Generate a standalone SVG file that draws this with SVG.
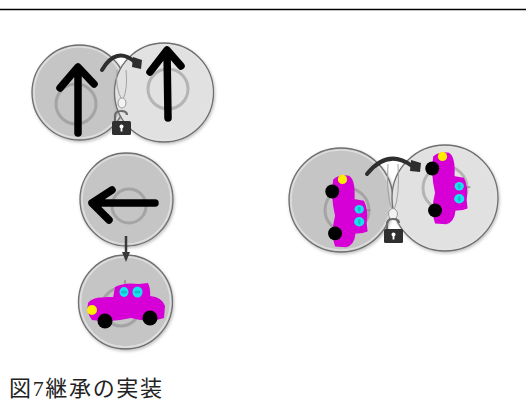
<svg xmlns="http://www.w3.org/2000/svg" xmlns:xlink="http://www.w3.org/1999/xlink" width="526" height="405" viewBox="0 0 526 405">
  <style>
    .disc-dark { fill: #c5c5c5; stroke: #6f6f6f; stroke-width: 1.3; }
    .disc-light { fill: #e1e1e1; stroke: #6f6f6f; stroke-width: 1.3; }
    .bevel { fill: none; stroke: #e4e4e4; stroke-width: 1.6; opacity: 0.8; }
    .seam { fill: none; stroke: #a2a2a2; stroke-width: 1; }
    .ring { fill: none; stroke: #a4a4a4; stroke-width: 3; }
    .ring-light { fill: none; stroke: #b4b4b4; stroke-width: 3; }
    .glyph { fill: none; stroke: #000; stroke-width: 7.5; stroke-linecap: round; stroke-linejoin: round; }
    .swing { fill: none; stroke: #2e2e2e; stroke-width: 4; stroke-linecap: round; }
    .link { fill: none; stroke: #3a3a3a; stroke-width: 2.5; }
    .lock-body { fill: #2f2f2f; }
    .shackle { fill: none; stroke: #6a6a6a; stroke-width: 2.2; }
    .bead { fill: #f2f2f2; stroke: #9a9a9a; stroke-width: 1; }
    .caption { font-family: "Liberation Serif", "Noto Sans CJK JP", serif; font-size: 22px; fill: #222; }
  </style>
  <defs>
    <filter id="shadow" x="-20%" y="-20%" width="140%" height="140%">
      <feDropShadow dx="1" dy="1.5" stdDeviation="1.5" flood-color="#000" flood-opacity="0.25"/>
    </filter>
    <marker id="tip" viewBox="0 0 10 10" refX="5" refY="5" markerWidth="4" markerHeight="4" orient="auto">
      <path d="M0,1 L10,5 L0,9 Z" fill="#3a3a3a"/>
    </marker>
    <!-- hand-drawn magenta car, nose to the left -->
    <g id="car">
      <line x1="125" y1="280" x2="125" y2="287" stroke="#8c8c8c" stroke-width="1.5"/>
      <path d="M113,298 L115,287 Q124,282 139,284 L148,283 Q151,290 150,298 Z" fill="#d600d6"/>
      <path d="M88,303 Q92,296 113,297 L150,296 Q162,297 165,306 L164,318 Q150,323 131,318 Q110,323 92,320 Q86,313 88,303 Z" fill="#d600d6"/>
      <ellipse cx="124" cy="292" rx="4.5" ry="5" fill="#19e3ee"/>
      <ellipse cx="137.5" cy="292" rx="5" ry="5.5" fill="#19e3ee"/>
      <ellipse cx="124" cy="292" rx="3" ry="1.5" fill="#12bcc8"/>
      <ellipse cx="137.5" cy="292" rx="3" ry="1.5" fill="#12bcc8"/>
      <circle cx="92" cy="310" r="5" fill="#ffee00"/>
      <circle cx="105" cy="321" r="7.5" fill="#000"/>
      <circle cx="150" cy="318" r="7.5" fill="#000"/>
    </g>
    <!-- open padlock glyph, origin at top-left of its body -->
    <g id="padlock">
      <path class="shackle" d="M3,0 L3,-5 Q3,-10 9,-10 Q15,-10 15,-6"/>
      <rect class="lock-body" x="0" y="0" width="19" height="14" rx="1.5"/>
      <circle cx="9.5" cy="5.5" r="2" fill="#fff"/>
      <rect x="8.6" y="6" width="1.8" height="4.5" fill="#fff"/>
    </g>
  </defs>

  <!-- rule along the top -->
  <line x1="0" y1="9.5" x2="526" y2="9.5" stroke="#000" stroke-width="1.3"/>

  <!-- upper pair: two linked dials with up arrows -->
  <g id="dial-up-a" filter="url(#shadow)">
    <circle class="disc-dark" cx="79.5" cy="92.5" r="47.5"/>
    <circle class="bevel" cx="79.5" cy="92.5" r="45.5"/>
    <circle class="ring" cx="76" cy="104" r="20"/>
    <path class="glyph" d="M78,133 L78,68 M60,88 L78,67 L94,84"/>
  </g>
  <g id="dial-up-b" filter="url(#shadow)">
    <circle class="disc-light" cx="164" cy="92.5" r="49.5"/>
    <circle class="bevel" cx="164" cy="92.5" r="47.5"/>
    <circle class="ring-light" cx="168" cy="89" r="20"/>
    <path class="glyph" d="M168,118 L167,51 M150,72 L167,50 L181,66"/>
  </g>
  <g id="hinge-up">
    <path class="seam" d="M117,70 Q115,88 122,100"/>
    <path class="seam" d="M126,70 Q128,88 123,100"/>
    <ellipse class="bead" cx="122" cy="103" rx="4" ry="5"/>
    <use xlink:href="#padlock" transform="translate(112,121)"/>
  </g>

  <!-- middle dial: left arrow -->
  <g id="dial-left" filter="url(#shadow)">
    <circle class="disc-dark" cx="126.5" cy="199.5" r="46.5"/>
    <circle class="bevel" cx="126.5" cy="199.5" r="44.5"/>
    <circle class="ring" cx="129" cy="206" r="17"/>
    <path class="glyph" d="M155,203 L92,203 M112,190 L92,203 L109,220"/>
  </g>

  <!-- lower dial: car -->
  <g id="dial-car" filter="url(#shadow)">
    <circle class="disc-dark" cx="125.5" cy="302" r="47"/>
    <circle class="bevel" cx="125.5" cy="302" r="45"/>
    <circle class="ring" cx="121" cy="307" r="19"/>
    <use xlink:href="#car"/>
  </g>

  <!-- right pair: two linked dials with upright cars -->
  <g id="dial-car-a" filter="url(#shadow)">
    <circle class="disc-dark" cx="341" cy="200" r="52"/>
    <circle class="bevel" cx="341" cy="200" r="50"/>
    <circle class="ring" cx="347" cy="210" r="22"/>
    <use xlink:href="#car" transform="translate(349,212) rotate(90) scale(0.93) translate(-127,-303)"/>
  </g>
  <g id="dial-car-b" filter="url(#shadow)">
    <circle class="disc-light" cx="445" cy="198" r="53"/>
    <circle class="bevel" cx="445" cy="198" r="51"/>
    <circle class="ring-light" cx="445" cy="188" r="22"/>
    <use xlink:href="#car" transform="translate(449,189) rotate(90) scale(0.93) translate(-127,-303)"/>
  </g>
  <g id="hinge-car">
    <path class="seam" d="M388,164 Q386,196 392,210"/>
    <path class="seam" d="M398,164 Q400,196 394,210"/>
    <ellipse class="bead" cx="393" cy="214" rx="4.5" ry="5.5"/>
    <use xlink:href="#padlock" transform="translate(384,229)"/>
  </g>

  <!-- connectors -->
  <g id="connectors">
    <path class="swing" d="M102,70 Q116,46 135,62"/>
    <path d="M133,57 L142,60 L141,69 L132,67 Z" fill="#2e2e2e"/>
    <line class="link" x1="126" y1="236" x2="126" y2="257" marker-end="url(#tip)"/>
    <path class="swing" d="M367,174 Q388,148 412,166"/>
    <path d="M411,160 L421,163 L420,172 L410,171 Z" fill="#2e2e2e"/>
  </g>

  <text class="caption" x="9" y="396" textLength="153" lengthAdjust="spacing">図7継承の実装</text>
</svg>
